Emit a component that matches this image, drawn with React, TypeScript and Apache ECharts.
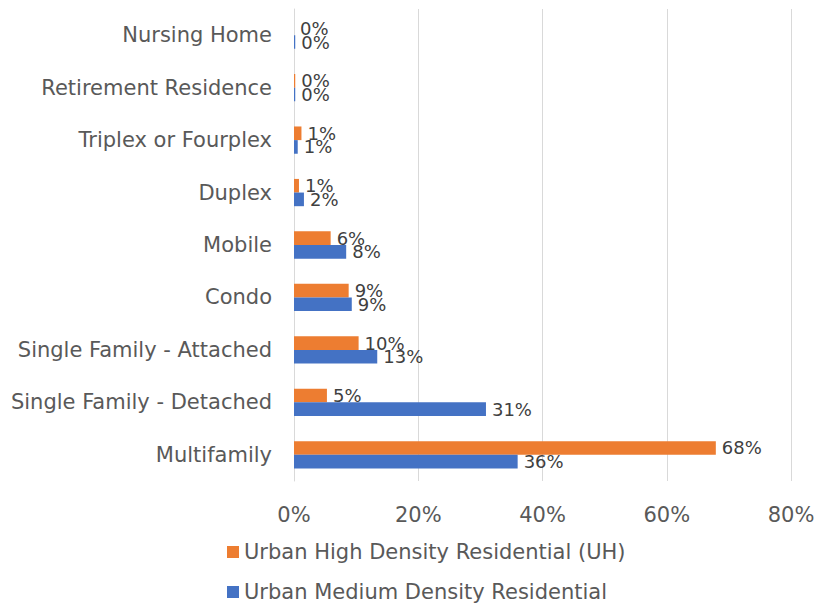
import React, { useEffect, useRef } from "react";
import * as echarts from "echarts";

const categories = [
  "Multifamily",
  "Single Family - Detached",
  "Single Family - Attached",
  "Condo",
  "Mobile",
  "Duplex",
  "Triplex or Fourplex",
  "Retirement Residence",
  "Nursing Home",
];
const seriesNames = [
  "Urban High Density Residential (UH)",
  "Urban Medium Density Residential",
];
const uhValues = [67.9, 5.3, 10.4, 8.8, 5.9, 0.8, 1.2, 0.2, 0];
const umValues = [36, 30.9, 13.4, 9.3, 8.4, 1.6, 0.6, 0.2, 0.2];
const xTicks = [0, 20, 40, 60, 80];

const FONT = "DejaVu Sans";

export default function App() {
  const ref = useRef<HTMLDivElement>(null);
  useEffect(() => {
    if (!ref.current) return;
    const chart = echarts.init(ref.current, null, { renderer: "svg" });
    const label = {
      show: true,
      position: "right",
      distance: 6,
      color: "#404040",
      fontFamily: FONT,
      fontSize: 18,
      formatter: (p: any) => Math.round(p.value) + "%",
    };
    chart.setOption({
      animation: false,
      backgroundColor: "#ffffff",
      textStyle: { fontFamily: FONT },
      grid: { left: 294, right: 30, top: 9, bottom: 123, containLabel: false },
      legend: {
        orient: "vertical",
        left: 227,
        top: 541,
        height: 80,
        padding: 0,
        itemWidth: 12,
        itemHeight: 12,
        itemGap: 18,
        icon: "rect",
        textStyle: { fontFamily: FONT, fontSize: 21, color: "#595959", lineHeight: 22 },
        data: seriesNames,
      },
      xAxis: {
        type: "value",
        min: xTicks[0],
        max: xTicks[xTicks.length - 1],
        interval: 20,
        axisLine: { show: false },
        axisTick: { show: false },
        splitLine: { lineStyle: { color: "#d9d9d9", width: 1 } },
        axisLabel: {
          formatter: (v: number) => v + "%",
          color: "#595959",
          fontSize: 21,
          fontFamily: FONT,
          margin: 23,
        },
      },
      yAxis: {
        type: "category",
        data: categories,
        axisLine: { show: true, lineStyle: { color: "#d9d9d9" } },
        axisTick: { show: false },
        axisLabel: { color: "#595959", fontSize: 21, fontFamily: FONT, margin: 22 },
      },
      series: [
        {
          name: seriesNames[0],
          type: "bar",
          data: uhValues,
          itemStyle: { color: "#ed7d31" },
          barGap: "0%",
          barCategoryGap: "48%",
          label,
        },
        {
          name: seriesNames[1],
          type: "bar",
          data: umValues,
          itemStyle: { color: "#4472c4" },
          barGap: "0%",
          barCategoryGap: "48%",
          label,
        },
      ],
    });
    return () => chart.dispose();
  }, []);
  return (
    <div
      ref={ref}
      style={{ position: "absolute", left: 0, top: 0, width: 821, height: 604 }}
    />
  );
}
